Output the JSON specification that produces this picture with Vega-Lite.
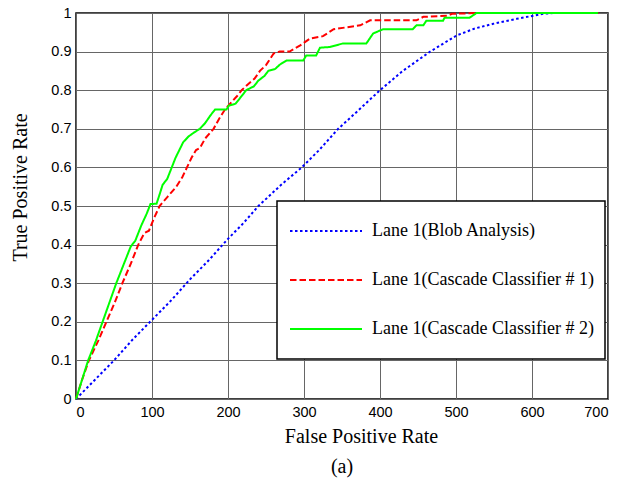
{
  "$schema": "https://vega.github.io/schema/vega-lite/v6.json",
  "width": 532,
  "height": 386,
  "autosize": "none",
  "padding": {"left": 76, "top": 13, "right": 26, "bottom": 84},
  "background": "white",
  "config": {
    "view": {"stroke": "black", "strokeWidth": 1.5},
    "axis": {
      "grid": true,
      "gridColor": "#666666",
      "gridOpacity": 1,
      "gridWidth": 1,
      "domain": false,
      "ticks": false,
      "labelFont": "Liberation Sans",
      "labelFontSize": 14.5,
      "labelColor": "black",
      "titleFont": "Liberation Serif",
      "titleFontSize": 20,
      "titleFontWeight": "normal",
      "titleColor": "black"
    },
    "legend": {
      "orient": "none",
      "legendX": 201,
      "legendY": 188,
      "strokeColor": "black",
      "strokeWidth": 1.5,
      "fillColor": "white",
      "padding": 11,
      "symbolType": "M-2,0H2M2,0.78",
      "symbolSize": 1296,
      "symbolOffset": 19,
      "symbolStrokeWidth": 2,
      "labelFont": "Liberation Serif",
      "labelFontSize": 18,
      "labelColor": "black",
      "labelOffset": 27,
      "labelLimit": 400,
      "rowPadding": 11
    }
  },
  "title": {
    "text": "(a)",
    "orient": "bottom",
    "anchor": "middle",
    "offset": 10,
    "font": "Liberation Serif",
    "fontSize": 20,
    "fontWeight": "normal",
    "color": "black"
  },
  "data": {
    "values": [
      {"s": "Lane 1(Blob Analysis)", "x": 0, "y": 0},
      {"s": "Lane 1(Blob Analysis)", "x": 25, "y": 0.05},
      {"s": "Lane 1(Blob Analysis)", "x": 50, "y": 0.1},
      {"s": "Lane 1(Blob Analysis)", "x": 75, "y": 0.155},
      {"s": "Lane 1(Blob Analysis)", "x": 100, "y": 0.205},
      {"s": "Lane 1(Blob Analysis)", "x": 125, "y": 0.255},
      {"s": "Lane 1(Blob Analysis)", "x": 150, "y": 0.31},
      {"s": "Lane 1(Blob Analysis)", "x": 175, "y": 0.36},
      {"s": "Lane 1(Blob Analysis)", "x": 200, "y": 0.415},
      {"s": "Lane 1(Blob Analysis)", "x": 220, "y": 0.455},
      {"s": "Lane 1(Blob Analysis)", "x": 240, "y": 0.5},
      {"s": "Lane 1(Blob Analysis)", "x": 270, "y": 0.555},
      {"s": "Lane 1(Blob Analysis)", "x": 297, "y": 0.6},
      {"s": "Lane 1(Blob Analysis)", "x": 320, "y": 0.645},
      {"s": "Lane 1(Blob Analysis)", "x": 345, "y": 0.7},
      {"s": "Lane 1(Blob Analysis)", "x": 370, "y": 0.745},
      {"s": "Lane 1(Blob Analysis)", "x": 400, "y": 0.8},
      {"s": "Lane 1(Blob Analysis)", "x": 430, "y": 0.85},
      {"s": "Lane 1(Blob Analysis)", "x": 466, "y": 0.9},
      {"s": "Lane 1(Blob Analysis)", "x": 501, "y": 0.942},
      {"s": "Lane 1(Blob Analysis)", "x": 525, "y": 0.96},
      {"s": "Lane 1(Blob Analysis)", "x": 549, "y": 0.972},
      {"s": "Lane 1(Blob Analysis)", "x": 580, "y": 0.985},
      {"s": "Lane 1(Blob Analysis)", "x": 602, "y": 0.993},
      {"s": "Lane 1(Blob Analysis)", "x": 615, "y": 0.998},
      {"s": "Lane 1(Blob Analysis)", "x": 630, "y": 1.0},
      {"s": "Lane 1(Blob Analysis)", "x": 690, "y": 1.0},

      {"s": "Lane 1(Cascade Classifier # 1)", "x": 0, "y": 0},
      {"s": "Lane 1(Cascade Classifier # 1)", "x": 8, "y": 0.05},
      {"s": "Lane 1(Cascade Classifier # 1)", "x": 17, "y": 0.1},
      {"s": "Lane 1(Cascade Classifier # 1)", "x": 29, "y": 0.15},
      {"s": "Lane 1(Cascade Classifier # 1)", "x": 40, "y": 0.2},
      {"s": "Lane 1(Cascade Classifier # 1)", "x": 51, "y": 0.25},
      {"s": "Lane 1(Cascade Classifier # 1)", "x": 61, "y": 0.3},
      {"s": "Lane 1(Cascade Classifier # 1)", "x": 72, "y": 0.35},
      {"s": "Lane 1(Cascade Classifier # 1)", "x": 82, "y": 0.4},
      {"s": "Lane 1(Cascade Classifier # 1)", "x": 90, "y": 0.43},
      {"s": "Lane 1(Cascade Classifier # 1)", "x": 96, "y": 0.436},
      {"s": "Lane 1(Cascade Classifier # 1)", "x": 103, "y": 0.47},
      {"s": "Lane 1(Cascade Classifier # 1)", "x": 110, "y": 0.5},
      {"s": "Lane 1(Cascade Classifier # 1)", "x": 121, "y": 0.525},
      {"s": "Lane 1(Cascade Classifier # 1)", "x": 132, "y": 0.55},
      {"s": "Lane 1(Cascade Classifier # 1)", "x": 140, "y": 0.575},
      {"s": "Lane 1(Cascade Classifier # 1)", "x": 146, "y": 0.6},
      {"s": "Lane 1(Cascade Classifier # 1)", "x": 152, "y": 0.625},
      {"s": "Lane 1(Cascade Classifier # 1)", "x": 158, "y": 0.645},
      {"s": "Lane 1(Cascade Classifier # 1)", "x": 163, "y": 0.65},
      {"s": "Lane 1(Cascade Classifier # 1)", "x": 170, "y": 0.675},
      {"s": "Lane 1(Cascade Classifier # 1)", "x": 181, "y": 0.7},
      {"s": "Lane 1(Cascade Classifier # 1)", "x": 188, "y": 0.725},
      {"s": "Lane 1(Cascade Classifier # 1)", "x": 196, "y": 0.75},
      {"s": "Lane 1(Cascade Classifier # 1)", "x": 205, "y": 0.77},
      {"s": "Lane 1(Cascade Classifier # 1)", "x": 212, "y": 0.785},
      {"s": "Lane 1(Cascade Classifier # 1)", "x": 218, "y": 0.8},
      {"s": "Lane 1(Cascade Classifier # 1)", "x": 226, "y": 0.815},
      {"s": "Lane 1(Cascade Classifier # 1)", "x": 235, "y": 0.83},
      {"s": "Lane 1(Cascade Classifier # 1)", "x": 242, "y": 0.85},
      {"s": "Lane 1(Cascade Classifier # 1)", "x": 250, "y": 0.865},
      {"s": "Lane 1(Cascade Classifier # 1)", "x": 255, "y": 0.88},
      {"s": "Lane 1(Cascade Classifier # 1)", "x": 260, "y": 0.895},
      {"s": "Lane 1(Cascade Classifier # 1)", "x": 268, "y": 0.9},
      {"s": "Lane 1(Cascade Classifier # 1)", "x": 281, "y": 0.9},
      {"s": "Lane 1(Cascade Classifier # 1)", "x": 295, "y": 0.916},
      {"s": "Lane 1(Cascade Classifier # 1)", "x": 308, "y": 0.934},
      {"s": "Lane 1(Cascade Classifier # 1)", "x": 325, "y": 0.94},
      {"s": "Lane 1(Cascade Classifier # 1)", "x": 339, "y": 0.958},
      {"s": "Lane 1(Cascade Classifier # 1)", "x": 374, "y": 0.968},
      {"s": "Lane 1(Cascade Classifier # 1)", "x": 387, "y": 0.981},
      {"s": "Lane 1(Cascade Classifier # 1)", "x": 448, "y": 0.981},
      {"s": "Lane 1(Cascade Classifier # 1)", "x": 457, "y": 0.99},
      {"s": "Lane 1(Cascade Classifier # 1)", "x": 488, "y": 0.993},
      {"s": "Lane 1(Cascade Classifier # 1)", "x": 495, "y": 0.998},
      {"s": "Lane 1(Cascade Classifier # 1)", "x": 530, "y": 1.0},
      {"s": "Lane 1(Cascade Classifier # 1)", "x": 690, "y": 1.0},

      {"s": "Lane 1(Cascade Classifier # 2)", "x": 0, "y": 0},
      {"s": "Lane 1(Cascade Classifier # 2)", "x": 8, "y": 0.05},
      {"s": "Lane 1(Cascade Classifier # 2)", "x": 16, "y": 0.1},
      {"s": "Lane 1(Cascade Classifier # 2)", "x": 20, "y": 0.12},
      {"s": "Lane 1(Cascade Classifier # 2)", "x": 26, "y": 0.15},
      {"s": "Lane 1(Cascade Classifier # 2)", "x": 35, "y": 0.2},
      {"s": "Lane 1(Cascade Classifier # 2)", "x": 44, "y": 0.25},
      {"s": "Lane 1(Cascade Classifier # 2)", "x": 53, "y": 0.3},
      {"s": "Lane 1(Cascade Classifier # 2)", "x": 63, "y": 0.35},
      {"s": "Lane 1(Cascade Classifier # 2)", "x": 72, "y": 0.395},
      {"s": "Lane 1(Cascade Classifier # 2)", "x": 78, "y": 0.41},
      {"s": "Lane 1(Cascade Classifier # 2)", "x": 86, "y": 0.45},
      {"s": "Lane 1(Cascade Classifier # 2)", "x": 93, "y": 0.48},
      {"s": "Lane 1(Cascade Classifier # 2)", "x": 98, "y": 0.505},
      {"s": "Lane 1(Cascade Classifier # 2)", "x": 106, "y": 0.506},
      {"s": "Lane 1(Cascade Classifier # 2)", "x": 110, "y": 0.53},
      {"s": "Lane 1(Cascade Classifier # 2)", "x": 114, "y": 0.555},
      {"s": "Lane 1(Cascade Classifier # 2)", "x": 120, "y": 0.57},
      {"s": "Lane 1(Cascade Classifier # 2)", "x": 126, "y": 0.6},
      {"s": "Lane 1(Cascade Classifier # 2)", "x": 131, "y": 0.625},
      {"s": "Lane 1(Cascade Classifier # 2)", "x": 136, "y": 0.645},
      {"s": "Lane 1(Cascade Classifier # 2)", "x": 141, "y": 0.665},
      {"s": "Lane 1(Cascade Classifier # 2)", "x": 148, "y": 0.68},
      {"s": "Lane 1(Cascade Classifier # 2)", "x": 155, "y": 0.69},
      {"s": "Lane 1(Cascade Classifier # 2)", "x": 163, "y": 0.7},
      {"s": "Lane 1(Cascade Classifier # 2)", "x": 170, "y": 0.715},
      {"s": "Lane 1(Cascade Classifier # 2)", "x": 177, "y": 0.735},
      {"s": "Lane 1(Cascade Classifier # 2)", "x": 183, "y": 0.75},
      {"s": "Lane 1(Cascade Classifier # 2)", "x": 198, "y": 0.75},
      {"s": "Lane 1(Cascade Classifier # 2)", "x": 201, "y": 0.76},
      {"s": "Lane 1(Cascade Classifier # 2)", "x": 210, "y": 0.765},
      {"s": "Lane 1(Cascade Classifier # 2)", "x": 216, "y": 0.78},
      {"s": "Lane 1(Cascade Classifier # 2)", "x": 224, "y": 0.8},
      {"s": "Lane 1(Cascade Classifier # 2)", "x": 234, "y": 0.81},
      {"s": "Lane 1(Cascade Classifier # 2)", "x": 240, "y": 0.825},
      {"s": "Lane 1(Cascade Classifier # 2)", "x": 248, "y": 0.837},
      {"s": "Lane 1(Cascade Classifier # 2)", "x": 253, "y": 0.85},
      {"s": "Lane 1(Cascade Classifier # 2)", "x": 262, "y": 0.855},
      {"s": "Lane 1(Cascade Classifier # 2)", "x": 268, "y": 0.866},
      {"s": "Lane 1(Cascade Classifier # 2)", "x": 277, "y": 0.877},
      {"s": "Lane 1(Cascade Classifier # 2)", "x": 299, "y": 0.877},
      {"s": "Lane 1(Cascade Classifier # 2)", "x": 303, "y": 0.89},
      {"s": "Lane 1(Cascade Classifier # 2)", "x": 316, "y": 0.89},
      {"s": "Lane 1(Cascade Classifier # 2)", "x": 321, "y": 0.91},
      {"s": "Lane 1(Cascade Classifier # 2)", "x": 334, "y": 0.912},
      {"s": "Lane 1(Cascade Classifier # 2)", "x": 351, "y": 0.921},
      {"s": "Lane 1(Cascade Classifier # 2)", "x": 382, "y": 0.921},
      {"s": "Lane 1(Cascade Classifier # 2)", "x": 391, "y": 0.947},
      {"s": "Lane 1(Cascade Classifier # 2)", "x": 404, "y": 0.958},
      {"s": "Lane 1(Cascade Classifier # 2)", "x": 443, "y": 0.958},
      {"s": "Lane 1(Cascade Classifier # 2)", "x": 448, "y": 0.968},
      {"s": "Lane 1(Cascade Classifier # 2)", "x": 457, "y": 0.968},
      {"s": "Lane 1(Cascade Classifier # 2)", "x": 461, "y": 0.98},
      {"s": "Lane 1(Cascade Classifier # 2)", "x": 483, "y": 0.98},
      {"s": "Lane 1(Cascade Classifier # 2)", "x": 485, "y": 0.988},
      {"s": "Lane 1(Cascade Classifier # 2)", "x": 518, "y": 0.988},
      {"s": "Lane 1(Cascade Classifier # 2)", "x": 527, "y": 1.0},
      {"s": "Lane 1(Cascade Classifier # 2)", "x": 687, "y": 1.0}
    ]
  },
  "mark": {"type": "line", "strokeWidth": 2},
  "encoding": {
    "x": {
      "field": "x",
      "type": "quantitative",
      "scale": {"domain": [0, 700], "nice": false, "zero": false},
      "axis": {
        "values": [0, 100, 200, 300, 400, 500, 600, 700],
        "format": "d",
        "title": "False Positive Rate",
        "labelPadding": 6,
        "titlePadding": 8,
        "titleX": 285
      }
    },
    "y": {
      "field": "y",
      "type": "quantitative",
      "scale": {"domain": [0, 1], "nice": false},
      "axis": {
        "values": [0, 0.1, 0.2, 0.3, 0.4, 0.5, 0.6, 0.7, 0.8, 0.9, 1],
        "format": "~g",
        "title": "True Positive Rate",
        "labelPadding": 5,
        "titlePadding": 20,
        "titleY": 174
      }
    },
    "color": {
      "field": "s",
      "type": "nominal",
      "scale": {
        "domain": ["Lane 1(Blob Analysis)", "Lane 1(Cascade Classifier # 1)", "Lane 1(Cascade Classifier # 2)"],
        "range": ["#0000ff", "#ff0000", "#00ff00"]
      },
      "legend": {"title": null}
    },
    "strokeDash": {
      "field": "s",
      "type": "nominal",
      "scale": {
        "domain": ["Lane 1(Blob Analysis)", "Lane 1(Cascade Classifier # 1)", "Lane 1(Cascade Classifier # 2)"],
        "range": [[2.5, 2.5], [6.5, 3], [1, 0]]
      },
      "legend": {"title": null}
    }
  }
}
